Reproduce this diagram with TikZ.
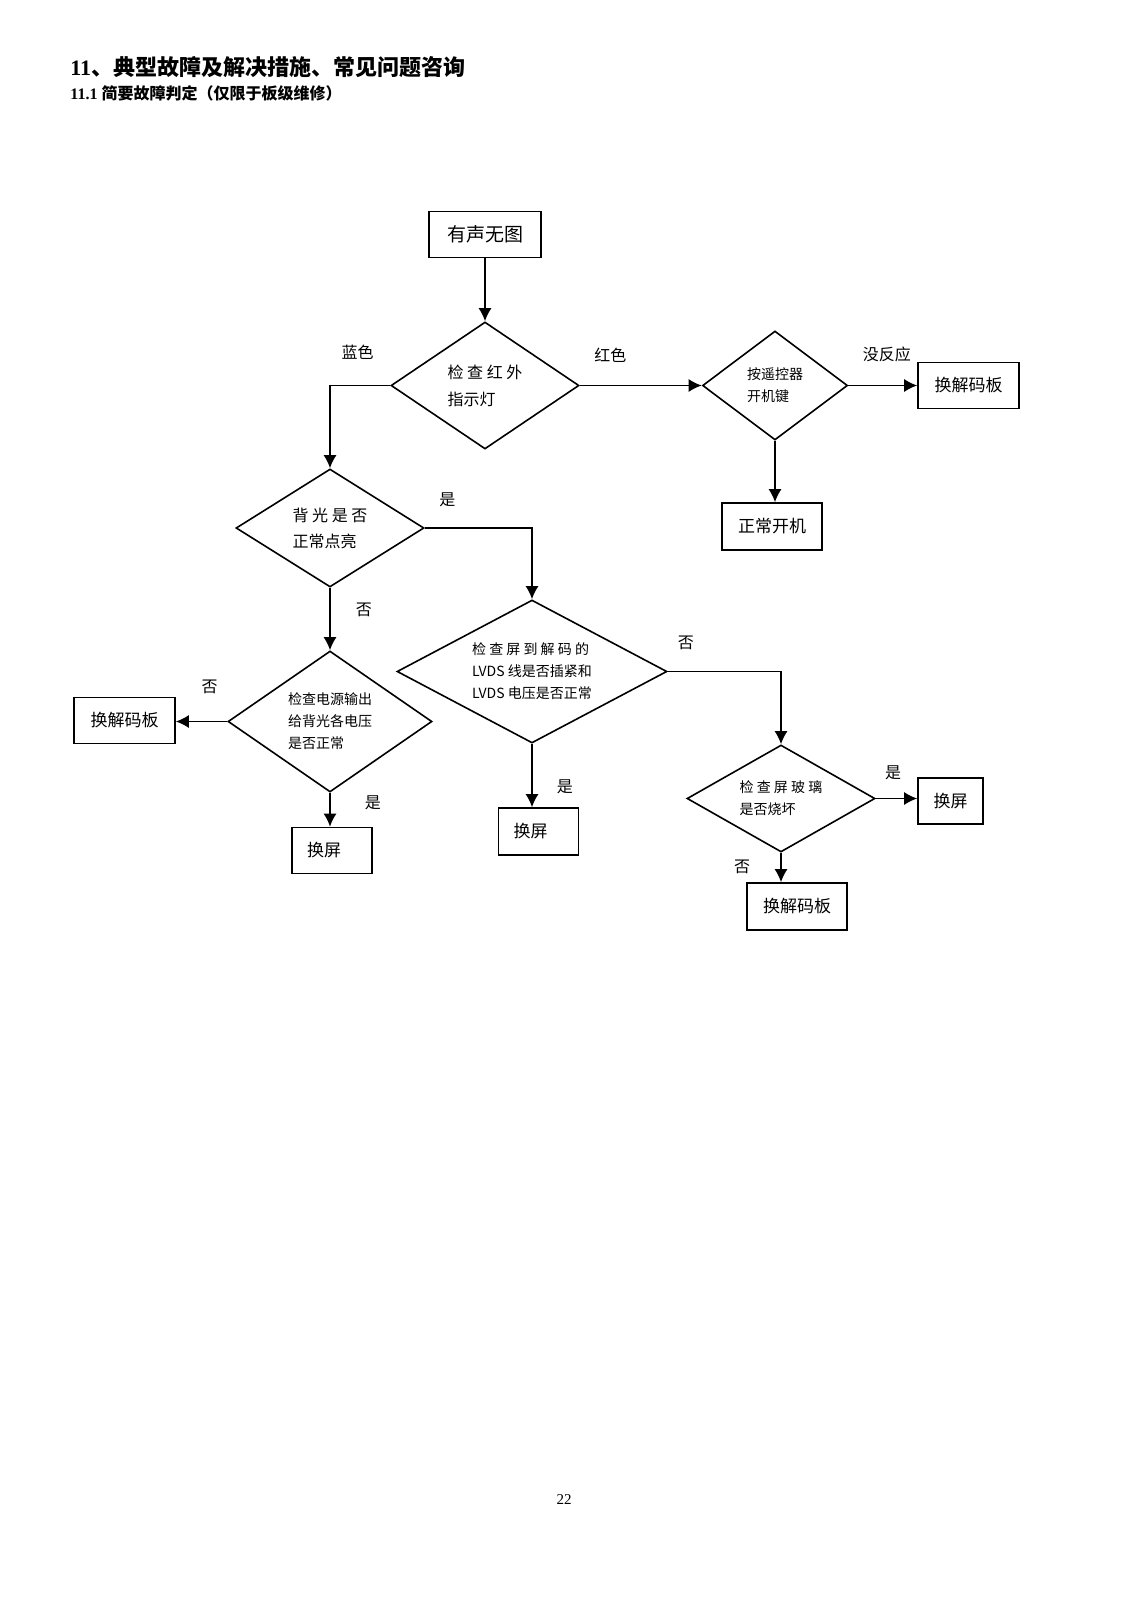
\documentclass[tikz,border=0pt]{standalone}
\usepackage{fontspec}
\setmainfont{Liberation Serif}
\newfontfamily\cjk{Noto Sans CJK SC}
\usetikzlibrary{arrows.meta,shapes.geometric,positioning}

\tikzset{
  decision/.style={diamond, draw, thick, inner sep=0pt, align=left, font=\cjk\fontsize{7}{11}\selectfont},
  procbox/.style={rectangle, draw, thick, inner sep=0pt, minimum height=23pt, font=\cjk\fontsize{8.5}{10}\selectfont},
  procboxl/.style={procbox, inner xsep=7.5pt, text width=25pt, align=left},
  lbl/.style={inner sep=0pt, font=\cjk\fontsize{8}{8}\selectfont},
  flow/.style={-{Latex[length=6.5pt,width=6.5pt]}, thick}
}

\begin{document}
\begin{tikzpicture}[x=0.5pt,y=-0.5pt]
    \useasboundingbox (0,0) rectangle (1132,1600);

    % Headings
    \node[anchor=west, inner sep=0pt, font=\fontsize{11}{13}\selectfont\bfseries] (title) at (70,67) {11{\cjk 、典型故障及解决措施、常见问题咨询}};
    \node[anchor=west, inner sep=0pt, font=\fontsize{8}{10}\selectfont\bfseries] (subtitle) at (70,93) {11.1\ {\cjk 简要故障判定（仅限于板级维修）}};

    % Start box
    \node[procbox, minimum width=56pt, font=\cjk\fontsize{9.5}{11}\selectfont] (start) at (485,234.5) {有声无图};

    % Decisions
    \node[decision, minimum width=94pt, minimum height=63.5pt, aspect=1.48, font=\cjk\fontsize{8}{13.5}\selectfont] (chkIR) at (485,385.5) {检 查 红 外\\指示灯};
    \node[decision, minimum width=72.5pt, minimum height=54.5pt, aspect=1.33] (remote) at (775,385.5) {按遥控器\\开机键};
    \node[decision, minimum width=94pt, minimum height=59pt, aspect=1.6, font=\cjk\fontsize{8}{13}\selectfont] (chkBL) at (330,528) {背 光 是 否\\正常点亮};
    \node[decision, minimum width=102pt, minimum height=70.5pt, aspect=1.45] (chkPwr) at (330,721.5) {检查电源输出\\给背光各电压\\是否正常};
    \node[decision, minimum width=135pt, minimum height=71.5pt, aspect=1.89] (chkLVDS) at (532,671.5) {检 查 屏 到 解 码 的\\LVDS 线是否插紧和\\LVDS 电压是否正常};
    \node[decision, minimum width=94pt, minimum height=53.5pt, aspect=1.76] (chkGlass) at (781,798.5) {检 查 屏 玻 璃\\是否烧坏};

    % Result boxes
    \node[procbox, minimum width=50.5pt] (boardA) at (968.5,385.5) {换解码板};
    \node[procbox, minimum width=50pt, minimum height=23.5pt] (normal) at (772,526.5) {正常开机};
    \node[procbox, minimum width=50.5pt] (boardB) at (124.5,720.5) {换解码板};
    \node[procboxl] (screenA) at (332,850.5) {换屏};
    \node[procboxl, minimum height=23.5pt] (screenB) at (538.5,831.5) {换屏};
    \node[procbox, minimum width=32.5pt] (screenC) at (950.5,801) {换屏};
    \node[procbox, minimum width=50pt, minimum height=23.5pt] (boardC) at (797,906.5) {换解码板};

    % Arcs between boxes and decisions
    \draw[flow] (start.south) -- (chkIR.north);
    \draw[flow] (chkIR.west) -| node[lbl, pos=0.27, above=12.5pt] (lblBlue) {蓝色} (chkBL.north);
    \draw[flow] (chkIR.east) to node[lbl, pos=0.25, above=11pt] (lblRed) {红色} (remote.west);
    \draw[flow] (remote.east) to node[lbl, pos=0.56, above=11.5pt] (lblNoResp) {没反应} (boardA.west);
    \draw[flow] (remote.south) -- (remote.south |- normal.north);

    \draw[flow] (chkBL.east) -| node[lbl, pos=0.105, above=10pt] (lblBLyes) {是} (chkLVDS.north);
    \draw[flow] (chkBL.south) to node[lbl, pos=0.36, right=12.5pt] (lblBLno) {否} (chkPwr.north);

    \draw[flow] (chkPwr.west) to node[lbl, pos=0.34, above=13.5pt] (lblPwrNo) {否} (chkPwr.west -| boardB.east);
    \draw[flow] (chkPwr.south) to node[lbl, pos=0.3, right=17pt] (lblPwrYes) {是} (chkPwr.south |- screenA.north);

    \draw[flow] (chkLVDS.east) -| node[lbl, pos=0.08, above=10.5pt] (lblLVDSno) {否} (chkGlass.north);
    \draw[flow] (chkLVDS.south) to node[lbl, pos=0.68, right=12pt] (lblLVDSyes) {是} (chkLVDS.south |- screenB.north);

    \draw[flow] (chkGlass.east) to node[lbl, pos=0.42, above=9pt] (lblGlassYes) {是} (chkGlass.east -| screenC.west);
    \draw[flow] (chkGlass.south) to node[lbl, pos=0.48, left=15pt] (lblGlassNo) {否} (chkGlass.south |- boardC.north);

    % Page number
    \node[font=\fontsize{7.5}{9}\selectfont] (pageNo) at (564,1500) {22};
\end{tikzpicture}
\end{document}
